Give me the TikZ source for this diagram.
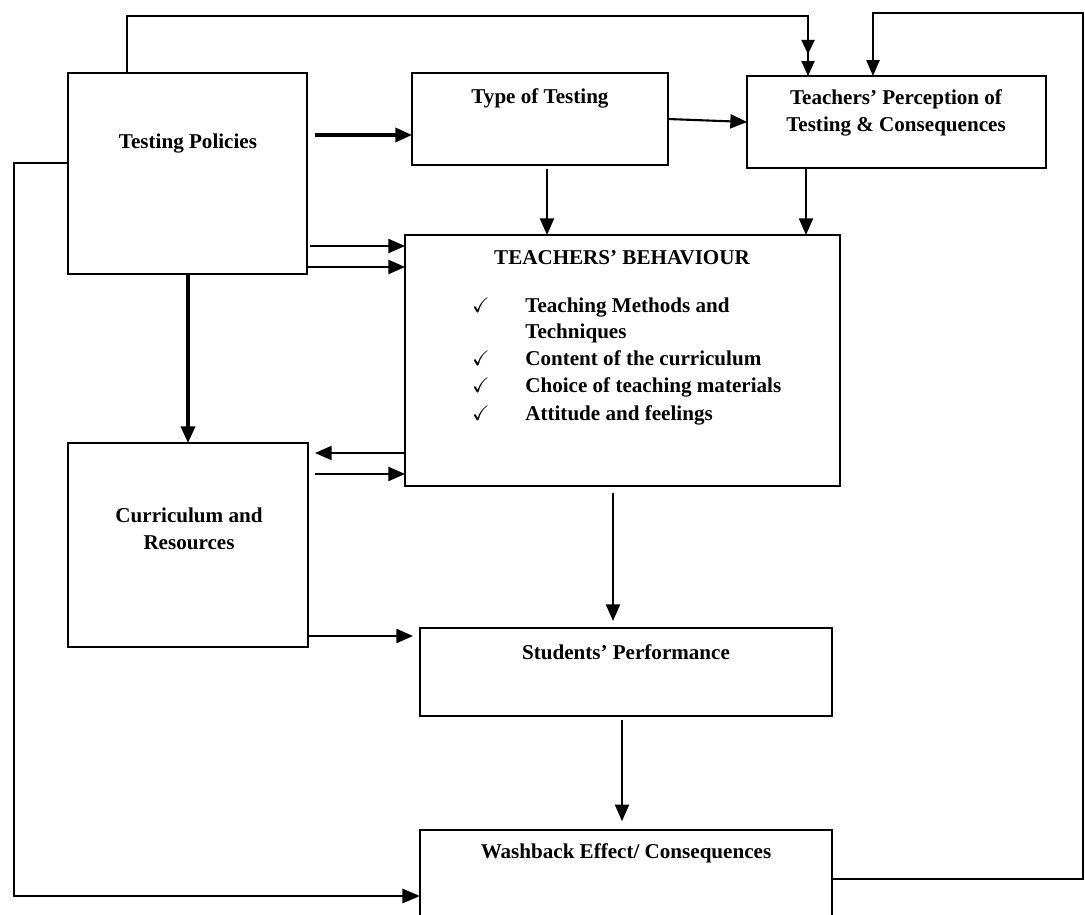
\documentclass[tikz,border=0pt]{standalone}
\usepackage{amssymb}
\usepackage{fontspec}
\setmainfont{Liberation Serif}
\usetikzlibrary{arrows.meta}

\begin{document}
\begin{tikzpicture}[x=.02cm,y=-.02cm,
			box/.style={draw,line width=.85pt,inner sep=0,outer sep=0},
			lbl/.style={font=\bfseries\fontsize{12}{15.3}\selectfont,inner sep=0,align=center},
			arr/.style={-{Triangle[length=9.5pt,width=8pt]},line width=1.2pt},
			heavy/.style={arr,line width=1.9pt},
			loop/.style={line width=.75pt},
			dbl/.style={loop,-{Triangle[length=8pt,width=7.5pt,sep=4pt]Triangle[length=8.5pt,width=7.5pt]}}]
			\useasboundingbox (0,0) rectangle (1085,915);
			
			% boxes
			\node[box,minimum width=4.78cm,minimum height=4.02cm] (tp) at (187.5,173.5) {};
			\node[box,minimum width=5.12cm,minimum height=1.84cm] (tot) at (540,119) {};
			\node[box,minimum width=5.98cm,minimum height=1.84cm] (perc) at (896.5,122) {};
			\node[box,minimum width=8.7cm,minimum height=5.02cm] (beh) at (622.5,360.5) {};
			\node[box,minimum width=4.8cm,minimum height=4.08cm] (cur) at (188,545) {};
			\node[box,minimum width=8.24cm,minimum height=1.76cm] (stud) at (626,672) {};
			\node[box,minimum width=8.24cm,minimum height=2.2cm] (wash) at (626,885) {};
			
			% texts
			\node[lbl] (tpl) at (188,144) {Testing Policies};
			\node[lbl] (totl) at (540,98) {Type of Testing};
			\node[lbl] (percl) at (896,112.5) {Teachers’ Perception of\\Testing \& Consequences};
			\node[lbl] (behl) at (622,258) {TEACHERS’ BEHAVIOUR};
			\foreach \y/\t [count=\i] in {313/Teaching Methods and,339/Techniques,366/Content of the curriculum,393/Choice of teaching materials,420/Attitude and feelings}
				\node[lbl,anchor=base west] (item\i) at (525,\y) {\t};
			\foreach \y [count=\i] in {313,366,393,420}
				\node[lbl,anchor=base] (tick\i) at (481,\y) {$\checkmark$};
			\node[lbl] (curl) at (189,529) {Curriculum and\\Resources};
			\node[lbl] (studl) at (626,652) {Students’ Performance};
			\node[lbl] (washl) at (626,853) {Washback Effect/ Consequences};
			
			% arrows
			\draw[heavy,shorten <=4.5pt] (tp.east |- 0,135) -- (tot.west |- 0,135);
			\draw[arr] (tot.east |- 0,119) -- (perc.west |- 0,122);
			\draw[arr,shorten <=2pt] (tot.south -| 547,0) -- (beh.north -| 547,0);
			\draw[arr] (perc.south -| 806,0) -- (beh.north -| 806,0);
			\draw[arr,shorten <=2pt] (tp.east |- 0,246) -- (beh.west |- 0,246);
			\draw[arr] (tp.east |- 0,267) -- (beh.west |- 0,267);
			\draw[heavy] (tp.south -| 188,0) -- (cur.north -| 188,0);
			\draw[arr,shorten >=4pt] (beh.west |- 0,453) -- (cur.east |- 0,453);
			\draw[arr,shorten <=4pt] (cur.east |- 0,474) -- (beh.west |- 0,474);
			\draw[arr,shorten <=4pt,shorten >=4pt] (beh.south -| 613,0) -- (stud.north -| 613,0);
			\draw[arr,shorten >=4pt] (cur.east |- 0,636) -- (stud.west |- 0,636);
			\draw[arr,shorten <=2pt,shorten >=5pt] (stud.south -| 622,0) -- (wash.north -| 622,0);
			
			% feedback loops
			\draw[dbl] (tp.north -| 127,0) -- (127,16) -| (perc.north -| 808,0);
			\draw[loop,-{Triangle[length=9pt,width=7.5pt]}] (wash.east |- 0,879) -| (1083,13) -| (perc.north -| 873,0);
			\draw[loop,line width=1.4pt,-{Triangle[length=10pt,width=8pt]}] (tp.west |- 0,163) -| (14,896) -- (wash.west |- 0,896);
\end{tikzpicture}
\end{document}
